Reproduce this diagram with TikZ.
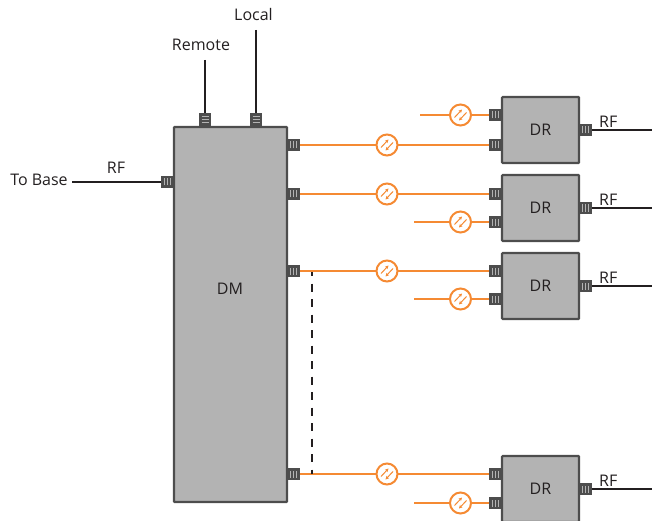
\documentclass[tikz,border=0pt]{standalone}
\usepackage{fontspec}
\usetikzlibrary{positioning,arrows.meta}
\setmainfont{Open Sans}
\definecolor{boxgray}{HTML}{B3B3B3}
\definecolor{portgray}{HTML}{4D4D4D}
\definecolor{fibre}{HTML}{F58A33}
\definecolor{inkblack}{HTML}{231F20}
\begin{document}
\begin{tikzpicture}[x=1pt, y=-1pt,
        unit/.style={draw=portgray, line width=2.2pt, fill=boxgray, rounded corners=0.8pt, inner sep=0, outer sep=0, text=inkblack, font=\fontsize{16}{18}\selectfont},
        hport/.style={fill=portgray, minimum width=13pt, minimum height=12pt, inner sep=0, outer sep=0,
                path picture={\foreach \d in {-3,0,3} {
                        \draw[boxgray, line width=1pt] ([xshift=\d pt, yshift=-3.5pt]path picture bounding box.center) -- ++(0,7pt);
                    }}},
        vport/.style={fill=portgray, minimum width=12pt, minimum height=14pt, inner sep=0, outer sep=0,
                path picture={\foreach \d in {-3,0,3} {
                        \draw[boxgray, line width=1pt] ([xshift=-3.5pt, yshift=\d pt]path picture bounding box.center) -- ++(7pt,0);
                    }}},
        coupler/.style={circle, draw=fibre, line width=2pt, fill=white, minimum size=21pt, inner sep=0, outer sep=0,
                path picture={
                        \draw[fibre, line width=1pt, -{Stealth[length=3.5pt,width=3.5pt]}] ([xshift=-6pt, yshift=-2.5pt]path picture bounding box.center) -- ++(7.5pt,8pt);
                        \draw[fibre, line width=1pt, -{Stealth[length=3.5pt,width=3.5pt]}] ([xshift=6pt, yshift=2.5pt]path picture bounding box.center) -- ++(-7.5pt,-8pt);
                    }},
        fibreline/.style={fibre, line width=2pt},
        rfline/.style={inkblack, line width=2pt},
        label/.style={text=inkblack, inner sep=0, font=\fontsize{16}{18}\selectfont}
    ]
    \useasboundingbox (0,0) rectangle (652,521);

    % Main unit with its ports
    \node[unit, minimum width=113pt, minimum height=375pt] (DM) at (230.5,314.5) {};
    \node[label] (DMtxt) at (230,288.5) {DM};
    \node[hport] (base) at (167.5,182) {};
    \node[vport] (remote) at (205,120) {};
    \node[vport] (local) at (256,120) {};

    % Remote units: number / centre of box / y of upper and lower port / y of small coupler
    \foreach \n/\y/\a/\b/\xs in {1/130/145/115/420, 2/208/194/222/414, 3/286/271/299/414, 4/489/474/503/414} {
            \node[unit, minimum width=77pt, minimum height=66pt] (DR\n) at (540.5,\y) {DR};
            \node[hport] (M\n) at (293.5,\a) {};
            \node[hport] (A\n) at (495.5,\a) {};
            \node[hport] (B\n) at (495.5,\b) {};
            \node[hport] (R\n) at (585.5,\y) {};
            \node[coupler] (CA\n) at (387,\a) {};
            \node[coupler] (CB\n) at (460.5,\b) {};
            \coordinate (EB\n) at (\xs,\b);
            \coordinate (ER\n) at (652,\y);
            \draw[fibreline] (M\n) -- (CA\n) -- (A\n);
            \draw[fibreline] (EB\n) -- (CB\n) -- (B\n);
            \draw[rfline] (R\n) -- (ER\n);
            \node[label, above right=2pt and 7pt of R\n.east] (RF\n) {RF};
        }

    % Control lines and the base link
    \node[label] (remotetxt) at (201,45) {Remote};
    \node[label] (localtxt) at (253.5,15) {Local};
    \node[label] (basetxt) at (39,179.5) {To Base};
    \node[label] (rftxt) at (116,167.5) {RF};
    \coordinate (remoteend) at (205,60);
    \coordinate (localend) at (256,30);
    \coordinate (baseend) at (72,182);
    \draw[rfline] (remoteend) -- (remote);
    \draw[rfline] (localend) -- (local);
    \draw[rfline] (baseend) -- (base);

    % Bus between third and last outputs
    \coordinate (bustop) at (312,272);
    \coordinate (busend) at (312,474);
    \draw[inkblack, line width=2.4pt, dash pattern=on 8pt off 7.5pt, dash phase=4pt] (bustop) -- (busend);
\end{tikzpicture}
\end{document}
